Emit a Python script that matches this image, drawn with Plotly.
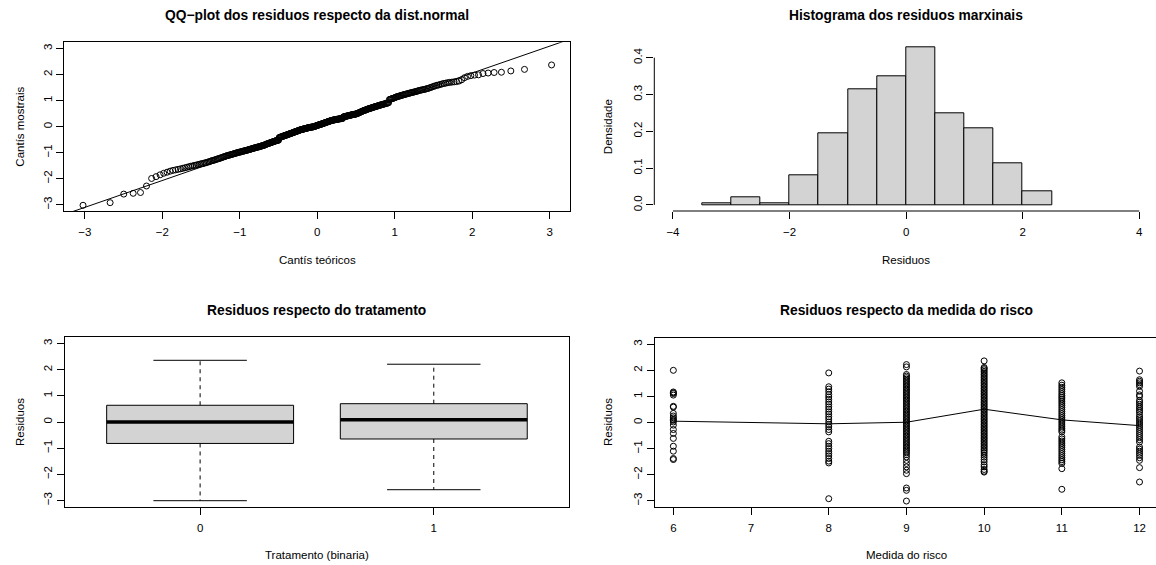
import plotly.graph_objects as go
from statistics import NormalDist
import numpy as np

# ---------------- data ----------------
# Sorted marginal residuals (QQ-plot sample quantiles), n = 400
qq_sample = [
    -3.02,
    -2.92, -2.59, -2.56, -2.53,
    -2.28,
    -1.99, -1.92, -1.85, -1.79, -1.75, -1.71, -1.68, -1.66, -1.64, -1.62,
    -1.60, -1.58, -1.56, -1.54, -1.52, -1.51,
    -1.49, -1.48, -1.46, -1.45, -1.43, -1.42, -1.41, -1.39, -1.38, -1.36,
    -1.35, -1.33, -1.31, -1.30, -1.29, -1.27, -1.26, -1.24, -1.23, -1.22,
    -1.20, -1.19, -1.17, -1.16, -1.15, -1.13, -1.12, -1.11, -1.10, -1.09,
    -1.08, -1.07, -1.06, -1.05, -1.04, -1.03, -1.02, -1.01, -1.00,
    -0.99, -0.98, -0.98, -0.97, -0.96, -0.95, -0.94, -0.94, -0.93, -0.92,
    -0.91, -0.91, -0.90, -0.89, -0.88, -0.87, -0.87, -0.86, -0.85, -0.84,
    -0.83, -0.83, -0.82, -0.81, -0.80, -0.80, -0.79, -0.78, -0.78, -0.77,
    -0.77, -0.76, -0.75, -0.74, -0.73, -0.73, -0.72, -0.71, -0.70, -0.70,
    -0.68, -0.67, -0.66, -0.65, -0.65, -0.64, -0.63, -0.62, -0.61, -0.61,
    -0.60, -0.59, -0.58, -0.57, -0.57, -0.56, -0.55, -0.54, -0.54, -0.53,
    -0.53, -0.52, -0.52,
    -0.42, -0.41, -0.41, -0.40, -0.39, -0.38, -0.38, -0.37, -0.36, -0.35,
    -0.35, -0.34, -0.33, -0.33, -0.32, -0.31, -0.30, -0.30, -0.29, -0.28,
    -0.27, -0.27, -0.26, -0.25, -0.25, -0.24, -0.23, -0.22, -0.22, -0.21,
    -0.20, -0.19, -0.19, -0.18, -0.17, -0.17, -0.16, -0.15, -0.14, -0.14,
    -0.13,
    -0.12, -0.12, -0.11, -0.11, -0.10, -0.10, -0.09, -0.09, -0.08, -0.08,
    -0.07, -0.07, -0.06, -0.06, -0.05, -0.05, -0.04, -0.04, -0.03, -0.03,
    -0.03, -0.02, -0.02, -0.02, -0.01, -0.01, -0.01, 0.00, 0.00,
    0.01, 0.02, 0.02, 0.03, 0.04, 0.04, 0.05, 0.06, 0.06, 0.07,
    0.08, 0.08, 0.09, 0.09, 0.10, 0.11, 0.11, 0.12, 0.13, 0.13,
    0.14, 0.15, 0.15, 0.16, 0.17, 0.17, 0.18, 0.19, 0.19, 0.20,
    0.21, 0.21, 0.22, 0.23, 0.23, 0.24, 0.24, 0.25,
    0.25, 0.26, 0.26, 0.26, 0.27, 0.27, 0.28, 0.28, 0.28, 0.29,
    0.29, 0.29, 0.30, 0.30, 0.30, 0.31, 0.31, 0.31, 0.32, 0.32,
    0.37, 0.38, 0.38, 0.39, 0.39, 0.40, 0.40, 0.41, 0.41, 0.42,
    0.42, 0.43, 0.43, 0.44, 0.44, 0.45, 0.45, 0.46, 0.46, 0.47,
    0.47, 0.47, 0.48, 0.48, 0.49, 0.49, 0.50,
    0.51, 0.52, 0.53, 0.54, 0.55, 0.56, 0.57, 0.58, 0.59, 0.60,
    0.61, 0.62, 0.63, 0.63, 0.64, 0.65, 0.66, 0.67, 0.68, 0.69,
    0.69,
    0.70, 0.71, 0.72, 0.72, 0.73, 0.74, 0.75, 0.76, 0.76, 0.77,
    0.78, 0.79, 0.79, 0.80, 0.81, 0.82, 0.83, 0.83, 0.84, 0.85,
    0.86, 0.86, 0.87, 0.88, 0.89, 0.90, 0.90, 0.91, 0.92,
    1.04, 1.05, 1.06, 1.07, 1.08, 1.09, 1.10, 1.11, 1.13, 1.14,
    1.15, 1.16, 1.17, 1.18, 1.19, 1.20, 1.21, 1.22, 1.23, 1.24,
    1.25, 1.26, 1.27, 1.28, 1.29, 1.30, 1.31, 1.32, 1.33, 1.34,
    1.35, 1.36, 1.38, 1.39, 1.40, 1.41, 1.42, 1.43, 1.44, 1.46,
    1.47, 1.49,
    1.51, 1.53, 1.55, 1.57, 1.59, 1.60, 1.62, 1.64, 1.66, 1.67,
    1.69, 1.70, 1.71, 1.72, 1.73, 1.75, 1.80, 1.88, 1.93, 1.96,
    1.98, 1.99,
    2.04, 2.06, 2.08, 2.09, 2.14, 2.20, 2.37,
]

# Histogram of marginal residuals (density scale)
hist_breaks = [-3.5, -3.0, -2.5, -2.0, -1.5, -1.0, -0.5, 0.0, 0.5, 1.0, 1.5, 2.0, 2.5]
hist_density = [0.005, 0.02, 0.005, 0.08, 0.194, 0.315, 0.35, 0.427, 0.25, 0.209, 0.112, 0.036]

# Boxplot statistics by treatment
box_labels = ["0", "1"]
box_lower = [-3.01, -2.59]
box_q1 = [-0.82, -0.65]
box_median = [0.00, 0.09]
box_q3 = [0.64, 0.70]
box_upper = [2.36, 2.21]

# Residuals by risk measure
risk_levels = [6, 8, 9, 10, 11, 12]
risk_6 = [2.00, 1.17, 1.14, 1.11, 1.05, 0.62, 0.59, 0.35, 0.25, 0.18, 0.12, 0.08, 0.02,
          -0.10, -0.27, -0.42, -0.61, -0.91, -1.10, -1.38, -1.42]
risk_8 = [1.90, 1.37, 1.28, 1.18, 1.07, 0.98, 0.89, 0.79, 0.70, 0.60, 0.51, 0.41, 0.32,
          0.22, 0.13, 0.02, -0.08, -0.17, -0.27, -0.36, -0.72, -0.81, -0.91, -1.00,
          -1.10, -1.19, -1.28, -1.38, -1.48, -1.55, -2.92]
risk_9 = [2.22, 2.13, 1.84, 1.78, 1.72, 1.66, 1.60, 1.54, 1.48, 1.42, 1.36, 1.30, 1.24,
          1.18, 1.12, 1.06, 1.00, 0.94, 0.88, 0.82, 0.76, 0.70, 0.64, 0.58, 0.52, 0.46,
          0.40, 0.34, 0.28, 0.22, 0.16, 0.10, 0.04, -0.02, -0.08, -0.14, -0.20, -0.26,
          -0.32, -0.38, -0.44, -0.50, -0.56, -0.62, -0.68, -0.74, -0.80, -0.86, -0.92,
          -0.98, -1.04, -1.10, -1.16, -1.23, -1.32, -1.45, -1.57, -1.70, -1.83, -1.96,
          -2.51, -2.60, -3.01]
risk_10 = [2.36, 2.11, 2.07, 2.02, 1.96, 1.90, 1.84, 1.78, 1.72, 1.66, 1.60, 1.54, 1.48,
           1.42, 1.36, 1.30, 1.24, 1.18, 1.12, 1.06, 1.00, 0.94, 0.88, 0.82, 0.76, 0.70,
           0.64, 0.58, 0.52, 0.46, 0.40, 0.34, 0.28, 0.22, 0.16, 0.10, 0.04, -0.02, -0.08,
           -0.14, -0.20, -0.26, -0.32, -0.38, -0.44, -0.50, -0.56, -0.62, -0.68, -0.74,
           -0.80, -0.86, -0.92, -0.98, -1.04, -1.10, -1.17, -1.25, -1.33, -1.42, -1.51,
           -1.62, -1.70, -1.80, -1.87, -1.90]
risk_11 = [1.52, 1.43, 1.35, 1.27, 1.19, 1.11, 1.04, 0.97, 0.90, 0.82, 0.74, 0.66, 0.58,
           0.50, 0.42, 0.34, 0.26, 0.18, 0.10, 0.02, -0.06, -0.14, -0.22, -0.29, -0.36,
           -0.55, -0.63, -0.71, -0.79, -0.87, -0.95, -1.03, -1.11, -1.19, -1.27, -1.35,
           -1.43, -1.50, -1.57, -1.77, -2.56]
risk_12 = [1.97, 1.64, 1.58, 1.52, 1.45, 1.38, 1.20, 1.06, 1.00, 0.85, 0.78, 0.70, 0.62,
           0.55, 0.47, 0.40, 0.30, 0.21, 0.14, 0.06, -0.02, -0.10, -0.18, -0.26, -0.34,
           -0.42, -0.50, -0.58, -0.66, -0.75, -0.94, -1.02, -1.10, -1.18, -1.26, -1.35,
           -1.45, -1.73, -2.28]
risk_means = [0.05, -0.05, 0.01, 0.51, 0.10, -0.12]

titles = ["QQ\u2212plot dos residuos respecto da dist.normal",
          "Histograma dos residuos marxinais",
          "Residuos respecto do tratamento",
          "Residuos respecto da medida do risco"]
xlabels = ["Cant\u00eds te\u00f3ricos", "Residuos", "Tratamento (binaria)", "Medida do risco"]
ylabels = ["Cant\u00eds mostrais", "Densidade", "Residuos", "Residuos"]

# ---------------- layout helpers ----------------
W, H = 1156, 565
FONT = "Liberation Sans, Arial, Helvetica, sans-serif"
GREY = "#D3D3D3"


def fx(p):
    return p / W


def fy(p):
    return 1 - p / H


fig = go.Figure()

circ = dict(symbol="circle-open", size=6, color="black", line=dict(width=1, color="black"))

# ---------- Panel 1: QQ plot ----------
n = len(qq_sample)
nd = NormalDist()
theo = [nd.inv_cdf((i + 0.5) / n) for i in range(n)]
sample_sorted = sorted(qq_sample)
fig.add_trace(go.Scatter(x=theo, y=sample_sorted, mode="markers", marker=circ,
                         xaxis="x", yaxis="y", showlegend=False, hoverinfo="skip"))
q1s, q3s = np.percentile(sample_sorted, [25, 75])
z1, z3 = nd.inv_cdf(0.25), nd.inv_cdf(0.75)
slope = (q3s - q1s) / (z3 - z1)
inter = q1s - slope * z1
lx = [-4.0, 4.0]
fig.add_trace(go.Scatter(x=lx, y=[inter + slope * v for v in lx], mode="lines",
                         line=dict(color="black", width=1), xaxis="x", yaxis="y",
                         showlegend=False, hoverinfo="skip"))

# ---------- Panel 2: histogram ----------
centers = [(hist_breaks[i] + hist_breaks[i + 1]) / 2 for i in range(len(hist_density))]
widths = [hist_breaks[i + 1] - hist_breaks[i] for i in range(len(hist_density))]
fig.add_trace(go.Bar(x=centers, y=hist_density, width=widths,
                     marker=dict(color=GREY, line=dict(color="black", width=1)),
                     xaxis="x2", yaxis="y2", showlegend=False, hoverinfo="skip"))

# ---------- Panel 3: boxplot ----------
for g in range(len(box_labels)):
    p = g + 1
    fig.add_trace(go.Scatter(
        x=[p - 0.4, p + 0.4, p + 0.4, p - 0.4, p - 0.4],
        y=[box_q1[g], box_q1[g], box_q3[g], box_q3[g], box_q1[g]],
        mode="lines", fill="toself", fillcolor=GREY, line=dict(color="black", width=1),
        xaxis="x3", yaxis="y3", showlegend=False, hoverinfo="skip"))
    fig.add_trace(go.Scatter(x=[p - 0.4, p + 0.4], y=[box_median[g]] * 2, mode="lines",
                             line=dict(color="black", width=3.5), xaxis="x3", yaxis="y3",
                             showlegend=False, hoverinfo="skip"))
    for a, b in [(box_q3[g], box_upper[g]), (box_q1[g], box_lower[g])]:
        fig.add_trace(go.Scatter(x=[p, p], y=[a, b], mode="lines",
                                 line=dict(color="black", width=1, dash="4px,4px"),
                                 xaxis="x3", yaxis="y3", showlegend=False, hoverinfo="skip"))
        fig.add_trace(go.Scatter(x=[p - 0.2, p + 0.2], y=[b, b], mode="lines",
                                 line=dict(color="black", width=1),
                                 xaxis="x3", yaxis="y3", showlegend=False, hoverinfo="skip"))

# ---------- Panel 4: residuals vs risk ----------
risk_groups = [risk_6, risk_8, risk_9, risk_10, risk_11, risk_12]
xs, ys = [], []
for lev, vals in zip(risk_levels, risk_groups):
    xs += [lev] * len(vals)
    ys += vals
fig.add_trace(go.Scatter(x=xs, y=ys, mode="markers", marker=circ, xaxis="x4", yaxis="y4",
                         showlegend=False, hoverinfo="skip"))
fig.add_trace(go.Scatter(x=risk_levels, y=risk_means, mode="lines",
                         line=dict(color="black", width=1), xaxis="x4", yaxis="y4",
                         showlegend=False, hoverinfo="skip"))

# ---------------- axes ----------------
tickfont = dict(family=FONT, size=11.5, color="black")
common = dict(showgrid=False, zeroline=False, ticks="outside", ticklen=7, tickwidth=1,
              tickcolor="black", linecolor="black", linewidth=1, tickfont=tickfont,
              fixedrange=True)
xcommon = dict(common, ticklabelstandoff=3)

P1 = dict(x0=64.3, x1=570.3, y0=42.3, y1=211.0)
P2 = dict(x0=654.3, x1=1156.0, y0=42.3, y1=211.0)
P3 = dict(x0=64.6, x1=569.3, y0=337.3, y1=506.7)
P4 = dict(x0=654.7, x1=1156.0, y0=337.7, y1=507.3)

yticks3 = [-3, -2, -1, 0, 1, 2, 3]

fig.update_layout(
    xaxis=dict(xcommon, domain=[fx(P1["x0"]), fx(P1["x1"])], range=[-3.265, 3.265],
               tickvals=[-3, -2, -1, 0, 1, 2, 3], showline=True, mirror=True, anchor="y"),
    yaxis=dict(common, domain=[fy(P1["y1"]), fy(P1["y0"])], range=[-3.24, 3.24],
               tickvals=yticks3, tickangle=-90, showline=True, mirror=True, anchor="x"),
    xaxis2=dict(xcommon, domain=[fx(P2["x0"]), fx(P2["x1"])], range=[-4.32, 4.287],
                tickvals=[-4, -2, 0, 2, 4], showline=False, anchor="y2"),
    yaxis2=dict(common, domain=[fy(P2["y1"]), fy(P2["y0"])], range=[-0.0165, 0.4418],
                tickvals=[0, 0.1, 0.2, 0.3, 0.4], ticktext=["0.0", "0.1", "0.2", "0.3", "0.4"],
                tickangle=-90, showline=False, anchor="x2"),
    xaxis3=dict(xcommon, domain=[fx(P3["x0"]), fx(P3["x1"])], range=[0.42, 2.58],
                tickvals=[1, 2], ticktext=box_labels, showline=True, mirror=True, anchor="y3"),
    yaxis3=dict(common, domain=[fy(P3["y1"]), fy(P3["y0"])], range=[-3.24, 3.24],
                tickvals=yticks3, tickangle=-90, showline=True, mirror=True, anchor="x3"),
    xaxis4=dict(xcommon, domain=[fx(P4["x0"]), fx(P4["x1"])], range=[5.76, 12.212],
                tickvals=[6, 7, 8, 9, 10, 11, 12], showline=True, mirror=True, anchor="y4"),
    yaxis4=dict(common, domain=[fy(P4["y1"]), fy(P4["y0"])], range=[-3.25, 3.25],
                tickvals=yticks3, tickangle=-90, showline=True, mirror=False, anchor="x4"),
)

# histogram axis lines (R draws them only between first and last tick)
fig.add_shape(type="line", xref="x2", yref="y2 domain", x0=-4, x1=4, y0=0, y1=0,
              line=dict(color="black", width=1))
fig.add_shape(type="line", xref="x2 domain", yref="y2", x0=0, x1=0, y0=0, y1=0.4,
              line=dict(color="black", width=1))

# ---------------- text ----------------
anns = []
panels = [P1, P2, P3, P4]
title_y = [15, 15, 310, 310]
xlab_y = [260, 260, 555, 554.5]
ylab_x = [20, 607.5, 20, 607.5]
for k, P in enumerate(panels):
    cx_full = (P["x0"] + (P["x1"] if k in (0, 2) else P["x0"] + 504.2)) / 2
    cy = (P["y0"] + P["y1"]) / 2
    anns.append(dict(text="<b>" + titles[k] + "</b>", x=fx(cx_full), y=fy(title_y[k]),
                     xref="paper", yref="paper", showarrow=False, xanchor="center",
                     yanchor="middle", font=dict(family=FONT, size=13.8, color="black")))
    anns.append(dict(text=xlabels[k], x=fx(cx_full), y=fy(xlab_y[k]), xref="paper",
                     yref="paper", showarrow=False, xanchor="center", yanchor="middle",
                     font=dict(family=FONT, size=11.5, color="black")))
    anns.append(dict(text=ylabels[k], x=fx(ylab_x[k]), y=fy(cy), xref="paper",
                     yref="paper", showarrow=False, xanchor="center", yanchor="middle",
                     textangle=-90, font=dict(family=FONT, size=11.5, color="black")))

fig.update_layout(
    annotations=anns,
    width=W, height=H, autosize=False,
    margin=dict(l=0, r=0, t=0, b=0, pad=0),
    paper_bgcolor="white", plot_bgcolor="white",
    showlegend=False,
    font=dict(family=FONT, color="black"),
    bargap=0,
)

fig.write_html("out.html", config={"displayModeBar": False})
